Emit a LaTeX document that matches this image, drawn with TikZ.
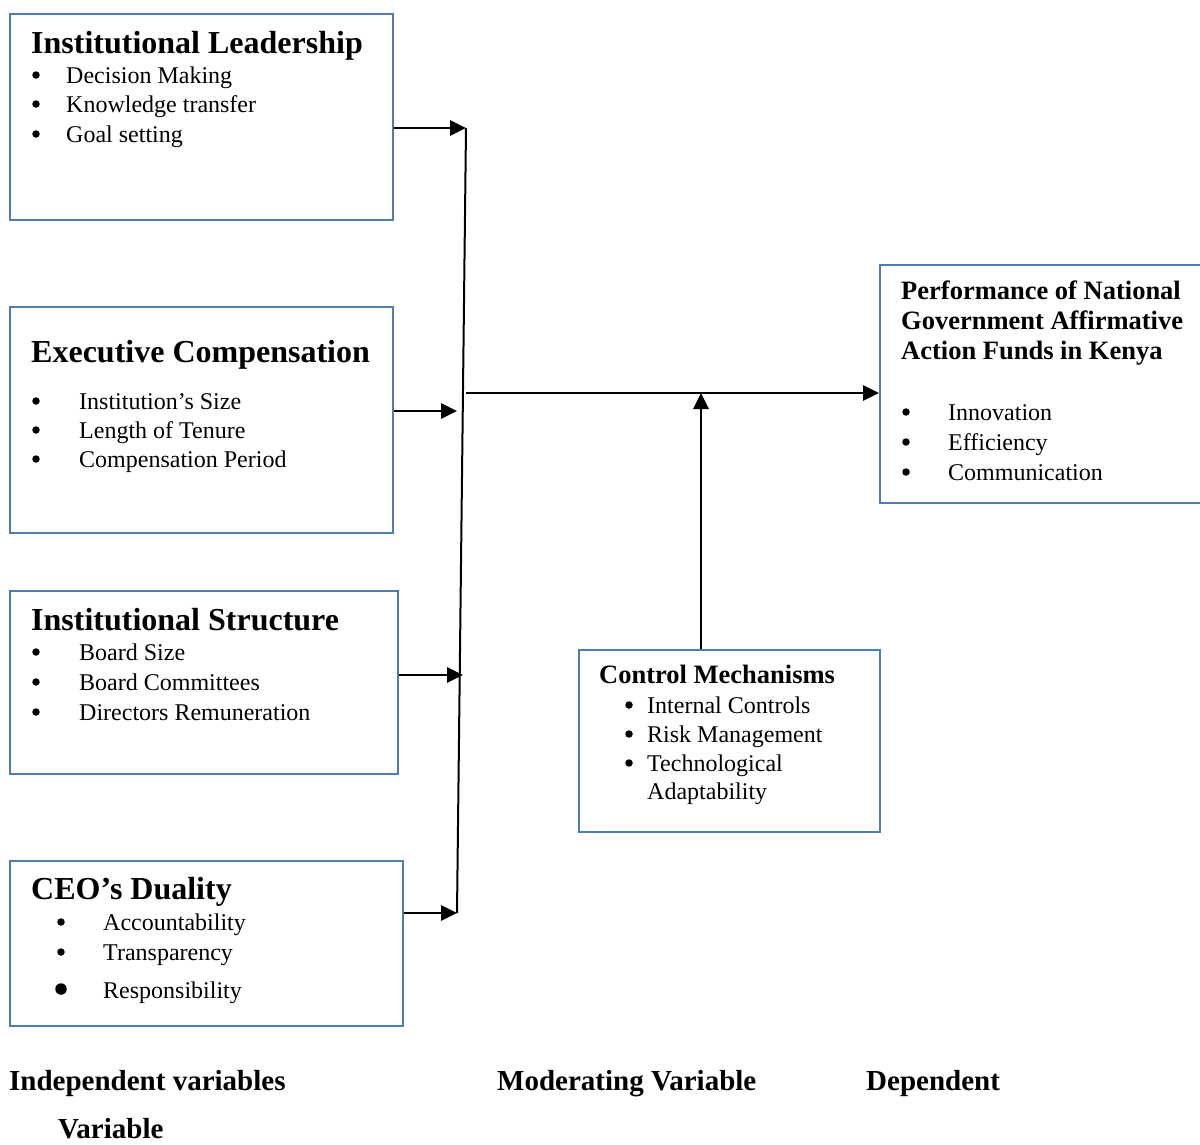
\documentclass[tikz,border=0pt]{standalone}
\usepackage{fontspec}
\setmainfont{Liberation Serif}
\usetikzlibrary{arrows.meta}
\definecolor{boxblue}{RGB}{79,125,175}
\tikzset{
  box/.style={draw=boxblue, line width=2pt, anchor=north west, inner sep=0pt},
  ttl/.style={anchor=base west, inner sep=0pt, font=\fontsize{32}{36}\selectfont\bfseries},
  sttl/.style={anchor=base west, inner sep=0pt, font=\fontsize{26.5}{30}\selectfont\bfseries},
  itm/.style={anchor=base west, inner sep=0pt, font=\fontsize{24}{29}\selectfont},
  bul/.style={circle, fill=black, inner sep=0pt, minimum size=7.5pt},
  lbl/.style={anchor=base west, inner sep=0pt, font=\fontsize{29}{33}\selectfont\bfseries},
  arr/.style={line width=2.8pt, -{Triangle[length=16pt,width=15pt]}},
  vline/.style={line width=2pt}
}
\begin{document}
\begin{tikzpicture}[x=1pt,y=-1pt]
\useasboundingbox (0,0) rectangle (1200,1144);

% ---- boxes ----
\node[box, minimum width=383pt, minimum height=206pt] (b1) at (9,13) {};
\node[box, minimum width=383pt, minimum height=226pt] (b2) at (9,306) {};
\node[box, minimum width=388pt, minimum height=183pt] (b3) at (9,590) {};
\node[box, minimum width=393pt, minimum height=165pt] (b4) at (9,860) {};
\node[box, minimum width=301pt, minimum height=182pt] (b5) at (578,649) {};
\node[box, minimum width=330pt, minimum height=238pt] (b6) at (879,264) {};

% ---- box 1 ----
\node[ttl] (t1) at (31,53) {Institutional Leadership};
\foreach \y/\t [count=\i] in {83/Decision Making, 112/Knowledge transfer, 142/Goal setting}{
  \node[bul] (b1d\i) at (36,\y-8) {};
  \node[itm] (b1i\i) at (66,\y) {\t};
}

% ---- box 2 ----
\node[ttl] (t2) at (31,362) {Executive Compensation};
\foreach \y/\t [count=\i] in {409/Institution’s Size, 438/Length of Tenure, 467/Compensation Period}{
  \node[bul] (b2d\i) at (36,\y-8) {};
  \node[itm] (b2i\i) at (79,\y) {\t};
}

% ---- box 3 ----
\node[ttl] (t3) at (31,630) {Institutional Structure};
\foreach \y/\t [count=\i] in {660/Board Size, 690/Board Committees, 720/Directors Remuneration}{
  \node[bul] (b3d\i) at (36,\y-8) {};
  \node[itm] (b3i\i) at (79,\y) {\t};
}

% ---- box 4 ----
\node[ttl] (t4) at (31,899) {CEO’s Duality};
\node[bul] (b4d1) at (61,922) {};
\node[itm] (b4i1) at (103,930) {Accountability};
\node[bul] (b4d2) at (61,952) {};
\node[itm] (b4i2) at (103,960) {Transparency};
\node[bul, minimum size=11.5pt] (b4d3) at (61,989) {};
\node[itm] (b4i3) at (103,998) {Responsibility};

% ---- box 5 ----
\node[sttl] (t5) at (599,683) {Control Mechanisms};
\foreach \y/\t [count=\i] in {713/Internal Controls, 742/Risk Management, 771/Technological}{
  \node[bul] (b5d\i) at (629,\y-8) {};
  \node[itm] (b5i\i) at (647,\y) {\t};
}
\node[itm] (b5i4) at (647,799) {Adaptability};

% ---- box 6 ----
\node[sttl] (t6a) at (901,299) {Performance of National};
\node[sttl] (t6b) at (901,329) {Government Affirmative};
\node[sttl] (t6c) at (901,359) {Action Funds in Kenya};
\foreach \y/\t [count=\i] in {420/Innovation, 450/Efficiency, 480/Communication}{
  \node[bul] (b6d\i) at (906,\y-8) {};
  \node[itm] (b6i\i) at (948,\y) {\t};
}

% ---- bottom labels ----
\node[lbl] (l1) at (9,1090) {Independent variables};
\node[lbl] (l2) at (497,1090) {Moderating Variable};
\node[lbl] (l3) at (866,1090) {Dependent};
\node[lbl] (l4) at (58,1138) {Variable};

% ---- connectors ----
\coordinate (vt) at (466,128);
\coordinate (vb) at (457,913);
\coordinate (e2) at (457,411);
\coordinate (e3) at (463,675);
\coordinate (m0) at (466,393);
\coordinate (mj) at (701,393);

\draw[vline] (vt) -- (vb);
\draw[arr] (b1.east |- vt) -- (vt);
\draw[arr] (b2.east |- e2) -- (e2);
\draw[arr] (b3.east |- e3) -- (e3);
\draw[arr] (b4.east |- vb) -- (vb);
\draw[arr] (m0) -- (b6.west |- m0);
\draw[arr] (b5.north -| mj) -- (mj);
\end{tikzpicture}
\end{document}
